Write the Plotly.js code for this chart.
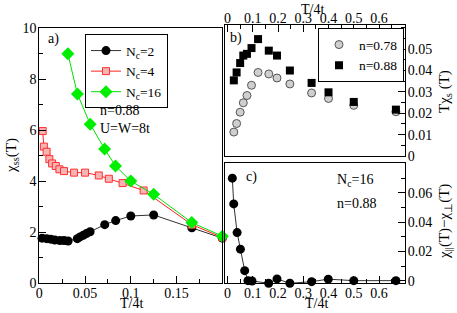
<!DOCTYPE html>
<html><head><meta charset="utf-8">
<script src="https://cdn.plot.ly/plotly-3.0.1.min.js"></script>
<style>html,body{margin:0;padding:0;background:#fff}#chart{width:457px;height:313px}</style>
</head><body><div id="chart"></div>
<script>
// Panel a: chi_ss(T) vs T/4t
const nc2_x = [0.003,0.008,0.0125,0.017,0.0225,0.027,0.0315,0.0415,0.0445,0.048,0.0515,0.0555,0.0715,0.0835,0.1,0.125,0.1667,0.2];
const nc2_y = [1.77,1.75,1.73,1.70,1.68,1.68,1.66,1.75,1.82,1.88,1.95,2.02,2.30,2.46,2.64,2.68,2.18,1.77];
const nc4_x = [0.0037,0.005,0.008,0.011,0.014,0.018,0.022,0.027,0.038,0.05,0.065,0.076,0.091,0.114,0.1667,0.2];
const nc4_y = [5.97,5.36,5.16,4.87,4.70,4.60,4.47,4.40,4.34,4.34,4.23,4.10,3.93,3.64,2.30,1.80];
const nc16_x = [0.03125,0.0417,0.0556,0.0714,0.0833,0.1,0.125,0.1667,0.2];
const nc16_y = [9.0,7.42,6.24,5.27,4.6,4.01,3.49,2.38,1.85];
// Panel b: T chi_s(T)
const b_x = [0.025,0.036,0.05,0.0625,0.077,0.095,0.121,0.1635,0.196,0.247,0.333,0.4,0.5,0.667];
const n078_y = [0.0112,0.0152,0.0205,0.0249,0.0283,0.0331,0.0391,0.0384,0.0365,0.0337,0.0295,0.0269,0.0237,0.0207];
const n088_y = [0.0354,0.0391,0.0435,0.047,0.0478,0.0505,0.0547,0.0493,0.047,0.040,0.0342,0.0298,0.0253,0.0217];
// Panel c: chi_par - chi_perp
const c_x = [0.019,0.0246,0.038,0.051,0.068,0.081,0.097,0.163,0.196,0.247,0.333,0.399,0.5,0.667];
const c_y = [0.0699,0.0524,0.0329,0.0216,0.007,0.0002,0.0,-0.0016,0.0014,-0.0016,-0.0005,0.0012,0.0002,0.0002];
// tick labels
const a_xticks = [0,0.05,0.1,0.15];
const a_yticks = [0,2,4,6,8,10];
const bc_xticks = [0,0.1,0.2,0.3,0.4,0.5,0.6];
const b_yticks = [0,0.01,0.02,0.03,0.04,0.05];
const c_yticks = [0,0.02,0.04,0.06];

const F = 'Liberation Serif';
const traces = [
  {x:nc2_x,y:nc2_y,name:'N<sub>c</sub>=2',mode:'lines+markers',xaxis:'x',yaxis:'y',legend:'legend',cliponaxis:false,
   line:{color:'#333',width:1},marker:{symbol:'circle',size:9,color:'#000'}},
  {x:nc4_x,y:nc4_y,name:'N<sub>c</sub>=4',mode:'lines+markers',xaxis:'x',yaxis:'y',legend:'legend',cliponaxis:false,
   line:{color:'#ff2020',width:1},marker:{symbol:'square',size:7,color:'#f7b4b4',line:{color:'#ff3030',width:1}}},
  {x:nc16_x,y:nc16_y,name:'N<sub>c</sub>=16',mode:'lines+markers',xaxis:'x',yaxis:'y',legend:'legend',cliponaxis:false,
   line:{color:'#00e000',width:1},marker:{symbol:'diamond',size:10,color:'#00ee00'}},
  {x:b_x,y:n078_y,name:'n=0.78',mode:'markers',xaxis:'x2',yaxis:'y2',legend:'legend2',cliponaxis:false,
   marker:{symbol:'circle',size:8,color:'#cfcfcf',line:{color:'#555',width:1}}},
  {x:b_x,y:n088_y,name:'n=0.88',mode:'markers',xaxis:'x2',yaxis:'y2',legend:'legend2',cliponaxis:false,
   marker:{symbol:'square',size:8,color:'#000'}},
  {x:c_x,y:c_y,name:'c',mode:'lines+markers',xaxis:'x3',yaxis:'y3',showlegend:false,cliponaxis:false,
   line:{color:'#333',width:1},marker:{symbol:'circle',size:9,color:'#000'}}
];
const W=457,H=313;
const px=v=>v/W, py=v=>1-v/H;
const ax = (o)=>Object.assign({showgrid:false,zeroline:false,showline:true,mirror:true,linecolor:'#000',linewidth:1,
  ticks:'inside',ticklen:7,tickcolor:'#000',tickfont:{family:F,size:14,color:'#000'}},o);
const mn = d=>({ticks:'inside',dtick:d,ticklen:4,tickcolor:'#000'});
const ann = (text,x,y,o)=>Object.assign({text:text,x:px(x),y:py(y),xref:'paper',yref:'paper',xanchor:'center',yanchor:'middle',
  showarrow:false,font:{family:F,size:14,color:'#000'}},o||{});
const layout = {
  width:W,height:H,margin:{l:0,r:0,t:0,b:0},paper_bgcolor:'#fff',plot_bgcolor:'#fff',
  font:{family:F,size:14,color:'#000'},
  xaxis:ax({domain:[px(39.3),px(222.3)],range:[0,0.2],anchor:'y',tickvals:a_xticks,ticktext:a_xticks.map(String),minor:mn(0.025),ticklabelstandoff:-3}),
  yaxis:ax({domain:[py(283.3),py(28.3)],range:[0,10],anchor:'x',tickvals:a_yticks,minor:mn(1),ticklabelstandoff:-1}),
  xaxis2:ax({domain:[px(225),px(405)],range:[-0.01,0.703],anchor:'y2',side:'top',tickvals:bc_xticks,ticktext:bc_xticks.map(String),minor:mn(0.05),ticklabelstandoff:-5}),
  yaxis2:ax({domain:[py(156),py(25)],range:[0,0.0613],anchor:'x2',side:'right',tickvals:b_yticks,ticktext:b_yticks.map(String),minor:mn(0.005),ticklabelstandoff:-1}),
  xaxis3:ax({domain:[px(225),px(405)],range:[-0.01,0.703],anchor:'y3',tickvals:bc_xticks,ticktext:bc_xticks.map(String),minor:mn(0.05),ticklabelstandoff:-3}),
  yaxis3:ax({domain:[py(283.3),py(163.3)],range:[-0.0016,0.080],anchor:'x3',side:'right',tickvals:c_yticks,ticktext:c_yticks.map(String),minor:mn(0.01),ticklabelstandoff:-1}),
  legend:{x:px(85),y:py(34.3),xanchor:'left',yanchor:'top',bgcolor:'#fff',bordercolor:'#000',borderwidth:1,
    font:{family:F,size:13.5},tracegroupgap:0,itemwidth:30},
  legend2:{x:px(318),y:py(28.3),xanchor:'left',yanchor:'top',bgcolor:'#fff',bordercolor:'#000',borderwidth:1,
    font:{family:F,size:13.5},tracegroupgap:0,itemwidth:30},
  annotations:[
    ann('χ<sub>ss</sub>(T)',12,156,{textangle:-90,font:{family:F,size:15,color:'#000'}}),
    ann('T/4t',131,313,{yanchor:'bottom'}),
    ann('T/4t',312,0,{yanchor:'top'}),
    ann('T/4t',316,313,{yanchor:'bottom'}),
    ann('Tχ<sub>s</sub> (T)',445,92,{textangle:-90,font:{family:F,size:15,color:'#000'}}),
    ann('χ<sub>||</sub>(T)−χ<sub>⊥</sub>(T)',445,222,{textangle:-90,font:{family:F,size:15,color:'#000'}}),
    ann('a)',46,39,{xanchor:'left'}),
    ann('n=0.88',98,110,{xanchor:'left'}),
    ann('U=W=8t',98,128,{xanchor:'left'}),
    ann('b)',228,38,{xanchor:'left'}),
    ann('c)',244,177,{xanchor:'left'}),
    ann('N<sub>c</sub>=16',335,180,{xanchor:'left'}),
    ann('n=0.88',335,203,{xanchor:'left'})
  ]
};
Plotly.newPlot('chart',traces,layout,{staticPlot:true,displayModeBar:false});
</script></body></html>
